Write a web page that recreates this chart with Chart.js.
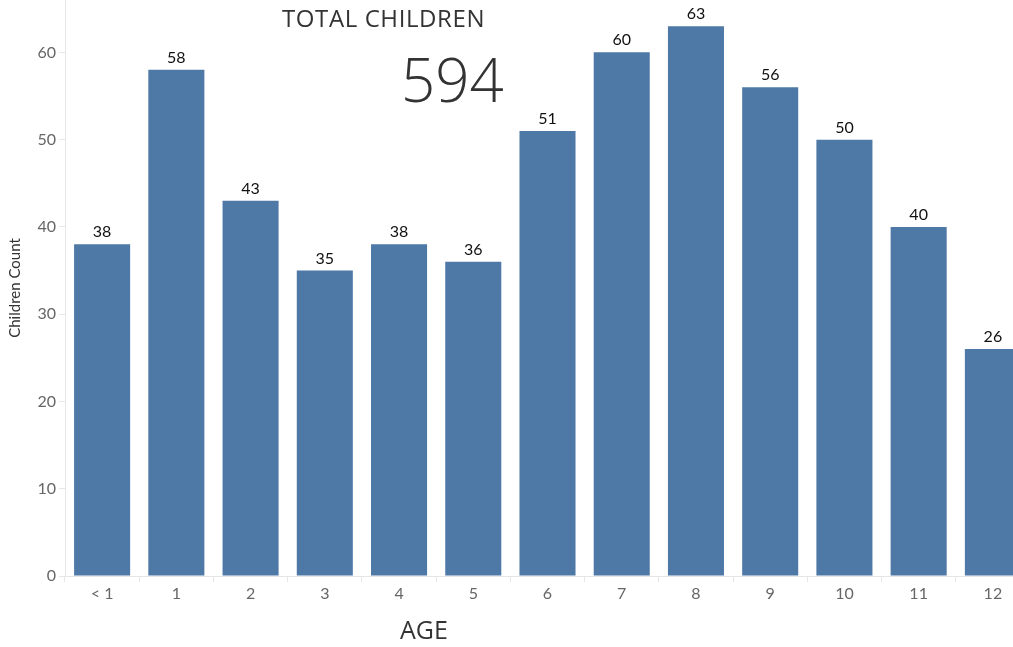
<!DOCTYPE html>
<html>
<head>
<meta charset="utf-8">
<script src="https://cdn.jsdelivr.net/npm/chart.js@4"></script>
<style>
  html, body { margin: 0; padding: 0; background: #fff; overflow: hidden; }
  #wrap { position: relative; width: 1013px; height: 647px; overflow: hidden; }
  #inner { position: absolute; left: 0; top: 0; width: 1030px; height: 647px; }
  .ov { position: absolute; font-family: "Open Sans", sans-serif; color: #333; white-space: nowrap; }
  #title { left: 282px; top: 1px; font-size: 24px; font-weight: 500; letter-spacing: 0.6px; }
  #total { left: 401px; top: 43px; font-size: 60px; font-weight: 300; line-height: 1.2; }
  #xt { left: 400px; top: 612px; font-size: 25px; }
</style>
</head>
<body>
<div id="wrap">
  <div id="inner"><canvas id="c" width="1030" height="647"></canvas></div>
  <div class="ov" id="title">TOTAL CHILDREN</div>
  <div class="ov" id="total">594</div>
  <div class="ov" id="xt">AGE</div>
</div>
<script>
const categories = ["< 1", "1", "2", "3", "4", "5", "6", "7", "8", "9", "10", "11", "12"];
const childrenCount = [38, 58, 43, 35, 38, 36, 51, 60, 63, 56, 50, 40, 26];
const yTicks = [0, 10, 20, 30, 40, 50, 60];

const FONT = "Lato, 'Open Sans', sans-serif";

const labelPlugin = {
  id: 'barLabels',
  afterDatasetsDraw(chart) {
    const ctx = chart.ctx;
    const meta = chart.getDatasetMeta(0);
    ctx.save();
    ctx.font = "16px " + FONT;
    ctx.fillStyle = "#111";
    ctx.textAlign = "center";
    ctx.textBaseline = "alphabetic";
    meta.data.forEach((bar, i) => {
      ctx.fillText(String(chart.data.datasets[0].data[i]), bar.x, bar.y - 7);
    });
    ctx.restore();
  }
};

new Chart(document.getElementById('c'), {
  type: 'bar',
  data: {
    labels: categories,
    datasets: [{
      data: childrenCount,
      backgroundColor: '#4e78a6',
      barPercentage: 0.755,
      categoryPercentage: 1.0
    }]
  },
  options: {
    responsive: false,
    animation: false,
    layout: { padding: 0 },
    plugins: { legend: { display: false }, tooltip: { enabled: false } },
    scales: {
      x: {
        offset: true,
        grid: { display: true, offset: true, drawOnChartArea: false, drawTicks: true, tickLength: 6, color: '#e6e6e6' },
        border: { display: true, color: '#e6e6e6' },
        ticks: { color: '#666', font: { family: FONT, size: 16 }, padding: 2, maxRotation: 0, autoSkip: false },
        afterFit: s => { s.height = 71; s.paddingLeft = 0; s.paddingRight = 0; }
      },
      y: {
        min: 0,
        max: 66,
        afterBuildTicks: s => { s.ticks = yTicks.map(v => ({ value: v })); },
        grid: { display: true, drawOnChartArea: false, drawTicks: true, tickLength: 6, color: '#e6e6e6' },
        border: { display: true, color: '#e6e6e6' },
        ticks: { color: '#666', font: { family: FONT, size: 16 }, padding: 3 },
        title: { display: true, text: 'Children Count', color: '#333', font: { family: FONT, size: 15 }, padding: { top: 6, bottom: 0 } },
        afterFit: s => { s.width = 65; s.paddingTop = 0; s.paddingBottom = 0; }
      }
    }
  },
  plugins: [labelPlugin]
});
</script>
</body>
</html>
